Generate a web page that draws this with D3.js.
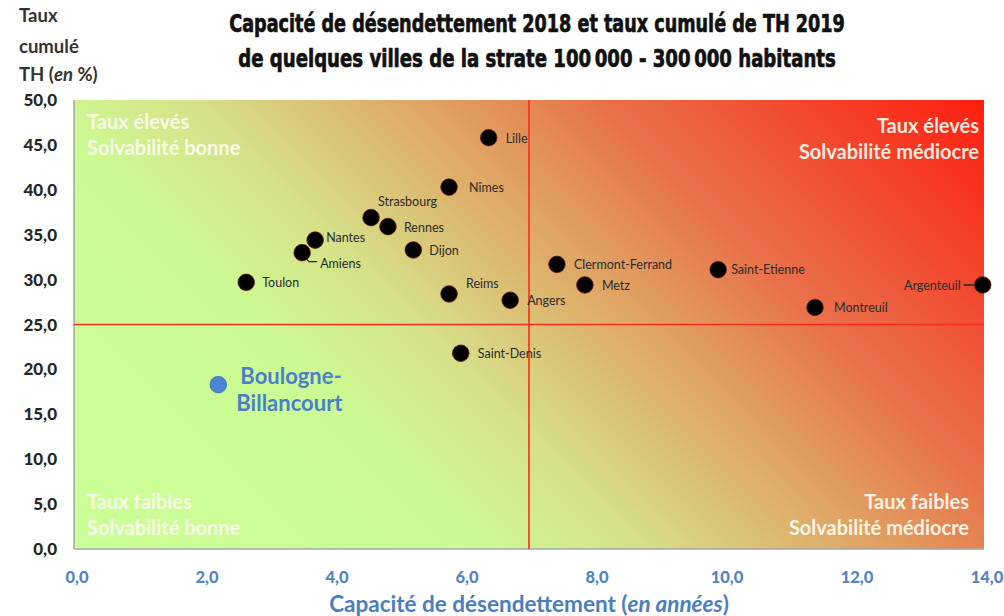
<!DOCTYPE html>
<html>
<head>
<meta charset="utf-8">
<script src="https://cdn.jsdelivr.net/npm/d3@7"></script>
<style>
  body { margin: 0; background: #fff; }
  svg { display: block; }
</style>
</head>
<body>
<svg id="chart" width="1004" height="616"></svg>
<script>
// data
const villes = ['Lille', 'Nîmes', 'Strasbourg', 'Rennes', 'Nantes', 'Amiens', 'Dijon', 'Toulon',
  'Reims', 'Angers', 'Clermont-Ferrand', 'Metz', 'Saint-Etienne', 'Montreuil', 'Argenteuil', 'Saint-Denis'];
const capacite = [6.38, 5.77, 4.57, 4.83, 3.71, 3.51, 5.22, 2.65, 5.77, 6.71, 7.43, 7.86, 9.91, 11.4, 13.98, 5.95];
const tauxTH = [45.8, 40.3, 36.9, 35.9, 34.4, 33.0, 33.3, 29.7, 28.4, 27.7, 31.7, 29.4, 31.1, 26.9, 29.4, 21.8];
const boulogneNom = ['Boulogne-', 'Billancourt'];
const boulogneCapacite = 2.22;
const boulogneTaux = 18.3;
const xTicks = [0, 2, 4, 6, 8, 10, 12, 14];
const yTicks = [0, 5, 10, 15, 20, 25, 30, 35, 40, 45, 50];
const seuilCapacite = 7;
const seuilTaux = 25;
const titre = ['Capacité de désendettement 2018 et taux cumulé de TH 2019',
  'de quelques villes de la strate 100\u202f000 - 300\u202f000 habitants'];
const quadrants = [
  { lignes: ['Taux élevés', 'Solvabilité bonne'], cote: 'gauche', haut: true },
  { lignes: ['Taux élevés', 'Solvabilité médiocre'], cote: 'droite', haut: true },
  { lignes: ['Taux faibles', 'Solvabilité bonne'], cote: 'gauche', haut: false },
  { lignes: ['Taux faibles', 'Solvabilité médiocre'], cote: 'droite', haut: false },
];

// label placement (dx, dy, anchor) per city
const placement = {
  'Lille': [17, 5, 'start'],
  'Nîmes': [20, 5, 'start'],
  'Strasbourg': [7, -12, 'start'],
  'Rennes': [16, 5, 'start'],
  'Nantes': [11, 2, 'start'],
  'Amiens': [18, 15, 'start'],
  'Dijon': [16, 5, 'start'],
  'Toulon': [16, 5, 'start'],
  'Reims': [17, -6, 'start'],
  'Angers': [17, 5, 'start'],
  'Clermont-Ferrand': [17, 5, 'start'],
  'Metz': [17, 5, 'start'],
  'Saint-Etienne': [13, 4, 'start'],
  'Montreuil': [19, 5, 'start'],
  'Argenteuil': [-22, 5, 'end'],
  'Saint-Denis': [17, 5, 'start'],
};

const font = 'Lato, "Open Sans", sans-serif';
const plot = { left: 74, right: 984, top: 100, bottom: 549 };

const svg = d3.select('#chart');
const x = d3.scaleLinear().domain([0, 14]).range([plot.left, plot.right]);
const y = d3.scaleLinear().domain([0, 50]).range([plot.bottom, plot.top]);

// background gradient green -> red
const defs = svg.append('defs');
const grad = defs.append('linearGradient')
  .attr('id', 'fond')
  .attr('gradientUnits', 'userSpaceOnUse')
  .attr('x1', plot.left).attr('y1', plot.bottom)
  .attr('x2', plot.left + 679).attr('y2', plot.bottom - 679);
[[0, '#ccff99'], [0.3, '#ccfb93'], [0.42, '#d6e088'], [0.52, '#dcbc72'],
  [0.62, '#e2985c'], [0.72, '#e9704a'], [0.85, '#f24a30'], [1, '#ff1e10']]
  .forEach(([o, c]) => grad.append('stop').attr('offset', o).attr('stop-color', c));

svg.append('rect')
  .attr('x', plot.left).attr('y', plot.top)
  .attr('width', plot.right - plot.left).attr('height', plot.bottom - plot.top)
  .attr('fill', 'url(#fond)');

// axis lines (no ticks)
svg.append('line')
  .attr('x1', plot.left).attr('x2', plot.left).attr('y1', plot.top).attr('y2', plot.bottom)
  .attr('stroke', '#a6a6a6').attr('stroke-width', 1.5);
svg.append('line')
  .attr('x1', plot.left).attr('x2', plot.right).attr('y1', plot.bottom).attr('y2', plot.bottom)
  .attr('stroke', '#a6a6a6').attr('stroke-width', 1.5);

// threshold lines
svg.append('line')
  .attr('x1', x(seuilCapacite)).attr('x2', x(seuilCapacite)).attr('y1', plot.top).attr('y2', plot.bottom)
  .attr('stroke', '#ff2a1a').attr('stroke-width', 1.6);
svg.append('line')
  .attr('x1', plot.left).attr('x2', plot.right).attr('y1', y(seuilTaux)).attr('y2', y(seuilTaux))
  .attr('stroke', '#ff2a1a').attr('stroke-width', 1.6);

// quadrant captions
quadrants.forEach((q) => {
  const gauche = q.cote === 'gauche';
  const tx = gauche ? 87 : (q.haut ? 979 : 969);
  const base = q.haut ? (gauche ? 129 : 133) : 509;
  q.lignes.forEach((l, i) => {
    svg.append('text')
      .attr('x', tx).attr('y', base + i * 26)
      .attr('text-anchor', gauche ? 'start' : 'end')
      .attr('font-family', font).attr('font-weight', 700).attr('font-size', 20)
      .attr('fill', '#fffdf2').attr('fill-opacity', 0.92)
      .text(l);
  });
});

// y axis labels
svg.append('g').selectAll('text')
  .data(yTicks)
  .join('text')
  .attr('x', 57).attr('y', (d) => y(d) + 6)
  .attr('text-anchor', 'end')
  .attr('font-family', font).attr('font-weight', 900).attr('font-size', 17)
  .attr('fill', '#262626')
  .text((d) => d.toFixed(1).replace('.', ','));

// x axis labels
svg.append('g').selectAll('text')
  .data(xTicks)
  .join('text')
  .attr('x', (d) => x(d) + 3).attr('y', 583)
  .attr('text-anchor', 'middle')
  .attr('font-family', font).attr('font-weight', 900).attr('font-size', 16.5)
  .attr('fill', '#5584c6')
  .text((d) => d.toFixed(1).replace('.', ','));

// axis titles
const xt = svg.append('text')
  .attr('x', 529).attr('y', 612)
  .attr('text-anchor', 'middle')
  .attr('font-family', font).attr('font-weight', 700).attr('font-size', 22.5)
  .attr('fill', '#4a7ebf');
xt.append('tspan').text('Capacité de désendettement (');
xt.append('tspan').attr('font-style', 'italic').text('en années');
xt.append('tspan').text(')');

const yt = svg.append('g')
  .attr('font-family', font).attr('font-weight', 700).attr('font-size', 18.5).attr('fill', '#333');
yt.append('text').attr('x', 19).attr('y', 22).text('Taux');
yt.append('text').attr('x', 19).attr('y', 53).text('cumulé');
const yt3 = yt.append('text').attr('x', 19).attr('y', 81);
yt3.append('tspan').text('TH (');
yt3.append('tspan').attr('font-style', 'italic').text('en');
yt3.append('tspan').text(' %)');

// title: condensed bold, squeezed horizontally to the reference width
const titreLargeur = [616, 598];
titre.forEach((t, i) => {
  const el = svg.append('text')
    .attr('text-anchor', 'middle')
    .attr('font-family', '"DejaVu Sans Condensed", "Liberation Sans Narrow", sans-serif')
    .attr('font-weight', 700).attr('font-size', 25)
    .attr('fill', '#111').attr('stroke', '#111').attr('stroke-width', 0.7)
    .text(t);
  const k = titreLargeur[i] / el.node().getComputedTextLength();
  el.attr('transform', `translate(537,${32 + i * 35}) scale(${k},1)`);
});

// leader lines
const ia = villes.indexOf('Amiens');
svg.append('path')
  .attr('d', `M${x(capacite[ia]) + 4},${y(tauxTH[ia]) + 6} L${x(capacite[ia]) + 7},${y(tauxTH[ia]) + 9} L${x(capacite[ia]) + 15},${y(tauxTH[ia]) + 9}`)
  .attr('fill', 'none').attr('stroke', '#222').attr('stroke-width', 1.2);
const ig = villes.indexOf('Argenteuil');
svg.append('line')
  .attr('x1', x(capacite[ig]) - 19).attr('x2', x(capacite[ig]) - 7)
  .attr('y1', y(tauxTH[ig])).attr('y2', y(tauxTH[ig]))
  .attr('stroke', '#222').attr('stroke-width', 1.5);

// points
const pts = villes.map((v, i) => ({ nom: v, cx: capacite[i], ty: tauxTH[i] }));
svg.append('g').selectAll('circle')
  .data(pts)
  .join('circle')
  .attr('cx', (d) => x(d.cx)).attr('cy', (d) => y(d.ty))
  .attr('r', 8.3)
  .attr('fill', '#000')
  .attr('stroke', '#6a1a10').attr('stroke-width', 0.8);

svg.append('g').selectAll('text')
  .data(pts)
  .join('text')
  .attr('x', (d) => x(d.cx) + placement[d.nom][0])
  .attr('y', (d) => y(d.ty) + placement[d.nom][1])
  .attr('text-anchor', (d) => placement[d.nom][2])
  .attr('font-family', font).attr('font-size', 12.5)
  .attr('fill', '#2b2b2b')
  .text((d) => d.nom);

// Boulogne-Billancourt
svg.append('circle')
  .attr('cx', x(boulogneCapacite)).attr('cy', y(boulogneTaux))
  .attr('r', 8.3)
  .attr('fill', '#4a86d4').attr('stroke', '#3b6fb5').attr('stroke-width', 0.8);
boulogneNom.forEach((l, i) => {
  svg.append('text')
    .attr('x', x(boulogneCapacite) + (i === 0 ? 22 : 18))
    .attr('y', y(boulogneTaux) - 1 + i * 27)
    .attr('font-family', font).attr('font-weight', 700).attr('font-size', 22)
    .attr('fill', '#4a7fcc')
    .text(l);
});
</script>
</body>
</html>
